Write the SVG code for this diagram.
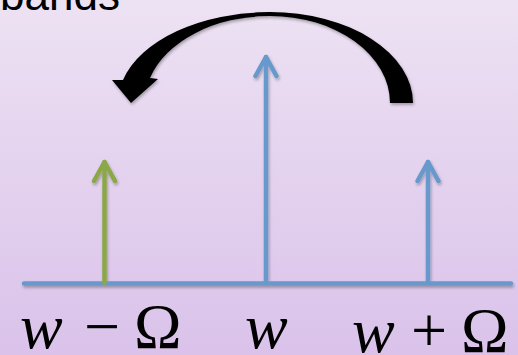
<svg xmlns="http://www.w3.org/2000/svg" width="518" height="355" viewBox="0 0 518 355">
  <defs>
    <linearGradient id="bg" x1="0" y1="0" x2="0" y2="1">
      <stop offset="0" stop-color="#EDE2F3"/>
      <stop offset="1" stop-color="#DAC2EA"/>
    </linearGradient>
    <filter id="shadow" x="-10%" y="-10%" width="130%" height="130%">
      <feDropShadow dx="1" dy="2" stdDeviation="1.5" flood-color="#000" flood-opacity="0.3"/>
    </filter>
  </defs>
  <style>
    .blue { stroke: #6799CC; }
    .green { stroke: #8BA84A; }
    .stem { stroke-width: 4.5; fill: none; stroke-linecap: round; stroke-linejoin: round; }
    .math { font-family: "Liberation Serif", "Times New Roman", serif; font-size: 64px; fill: #000; }
    .it { font-style: italic; }
    .title { font-family: "Liberation Sans", Arial, sans-serif; font-size: 44px; fill: #000; }
  </style>
  <rect x="0" y="0" width="518" height="355" fill="url(#bg)"/>
  <text class="title" x="0" y="10">bands</text>

  <g id="connectors" filter="url(#shadow)">
    <g id="axis">
      <line class="blue stem" x1="24" y1="283.5" x2="511" y2="283.5" stroke-linecap="butt"/>
    </g>
    <g id="arrow-lower">
      <line class="green stem" x1="104.5" y1="283" x2="104.5" y2="162"/>
      <polyline class="green stem" points="94,181 104.5,162 115,181"/>
    </g>
    <g id="arrow-center">
      <line class="blue stem" x1="266" y1="283" x2="266" y2="57"/>
      <polyline class="blue stem" points="255.5,76 266,57 276.5,76"/>
    </g>
    <g id="arrow-upper">
      <line class="blue stem" x1="428" y1="283" x2="428" y2="162"/>
      <polyline class="blue stem" points="417.5,181 428,162 438.5,181"/>
    </g>
    <g id="curved-arrow">
      <path fill="#000" d="M 413 103 A 143 91 0 0 0 270 12 A 152 91 0 0 0 123 80 L 112 80 L 131 103 L 158 79 L 150 78 A 125 87 0 0 1 270 16 A 120 87 0 0 1 390 103 Z"/>
    </g>
  </g>

  <g id="label-lower">
    <text class="math it" x="20" y="348">w</text>
    <text class="math" x="84" y="348">−</text>
    <text class="math" x="134" y="348">Ω</text>
  </g>
  <g id="label-center">
    <text class="math it" x="245" y="348">w</text>
  </g>
  <g id="label-upper">
    <text class="math it" x="352" y="352">w</text>
    <text class="math" x="411" y="352">+</text>
    <text class="math" x="461" y="352">Ω</text>
  </g>
</svg>
